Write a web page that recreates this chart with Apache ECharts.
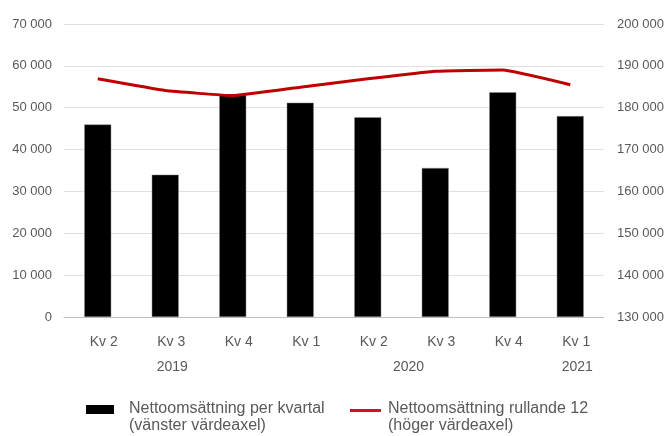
<!DOCTYPE html>
<html>
<head>
<meta charset="utf-8">
<script src="https://cdn.jsdelivr.net/npm/echarts@6/dist/echarts.min.js"></script>
<style>
html,body{margin:0;padding:0;background:#fff;}
#c{width:668px;height:436px;}
</style>
</head>
<body>
<div id="c"></div>
<script>
var categories = ['Kv 2','Kv 3','Kv 4','Kv 1','Kv 2','Kv 3','Kv 4','Kv 1'];
var yearLabels = ['','','','2019','','','','','','','2020','','','','','2021',''];
var quarterly = [46000, 34000, 53100, 51200, 47700, 35600, 53700, 48000];
var rolling12 = [186900, 184100, 182900, 184900, 186900, 188700, 189000, 185500];
var barName = 'Nettoomsättning per kvartal\n(vänster värdeaxel)';
var lineName = 'Nettoomsättning rullande 12\n(höger värdeaxel)';

function fmt(v){ return String(v).replace(/\B(?=(\d{3})+(?!\d))/g, ' '); }

var font = 'Liberation Sans, Arial, sans-serif';
var chart = echarts.init(document.getElementById('c'));
chart.setOption({
  animation: false,
  textStyle: {fontFamily: font},
  grid: {left: 64, right: 64, top: 24, bottom: 119},
  legend: [{
    data: [{name: barName, icon: 'path://M0,0H28V9H0ZM0,25L28,25'}],
    left: 86, top: 398, padding: 0, itemWidth: 28, itemHeight: 25, itemGap: 0,
    itemStyle: {borderWidth: 0},
    textStyle: {fontSize: 16, color: '#595959', lineHeight: 17, padding: [5, 0, 0, 10], fontFamily: font}
  }, {
    data: [{name: lineName, icon: 'path://M0,0L31,0M0,4H31V7H0ZM0,25L31,25', itemStyle: {color: '#d0102a'}}],
    left: 350, top: 398, padding: 0, itemWidth: 31, itemHeight: 25, itemGap: 0,
    itemStyle: {borderWidth: 0},
    textStyle: {fontSize: 16, color: '#595959', lineHeight: 17, padding: [5, 0, 0, 2], fontFamily: font}
  }],
  xAxis: [{
    type: 'category', data: categories, position: 'bottom',
    axisLine: {lineStyle: {color: '#bfbfbf', width: 1}},
    axisTick: {show: false},
    axisLabel: {color: '#595959', fontSize: 14, margin: 18, padding: [0,0,0,12], interval: 0}
  }, {
    type: 'category', data: yearLabels, position: 'bottom', boundaryGap: false, offset: 25,
    axisLine: {show: false}, axisTick: {show: false}, splitLine: {show: false},
    axisLabel: {color: '#595959', fontSize: 14, margin: 18, padding: [0,0,0,14], interval: 0}
  }],
  yAxis: [{
    type: 'value', min: 0, max: 70000, interval: 10000,
    axisLine: {show: false}, axisTick: {show: false},
    splitLine: {lineStyle: {color: '#e0e0e0', width: 1}},
    axisLabel: {color: '#595959', fontSize: 13, margin: 12, formatter: fmt}
  }, {
    type: 'value', min: 130000, max: 200000, interval: 10000, position: 'right',
    axisLine: {show: false}, axisTick: {show: false}, splitLine: {show: false},
    axisLabel: {color: '#595959', fontSize: 13, margin: 13, formatter: fmt}
  }],
  series: [{
    name: barName, type: 'bar', data: quarterly, yAxisIndex: 0, xAxisIndex: 0,
    barWidth: 27, itemStyle: {color: '#000000', borderColor: '#8c8c8c', borderWidth: 0.5}
  }, {
    name: lineName, type: 'line', data: rolling12, yAxisIndex: 1, xAxisIndex: 0,
    symbol: 'none', smooth: 0.1, lineStyle: {color: '#c00000', width: 3}, itemStyle: {color: '#d0102a'}
  }]
});
</script>
</body>
</html>
